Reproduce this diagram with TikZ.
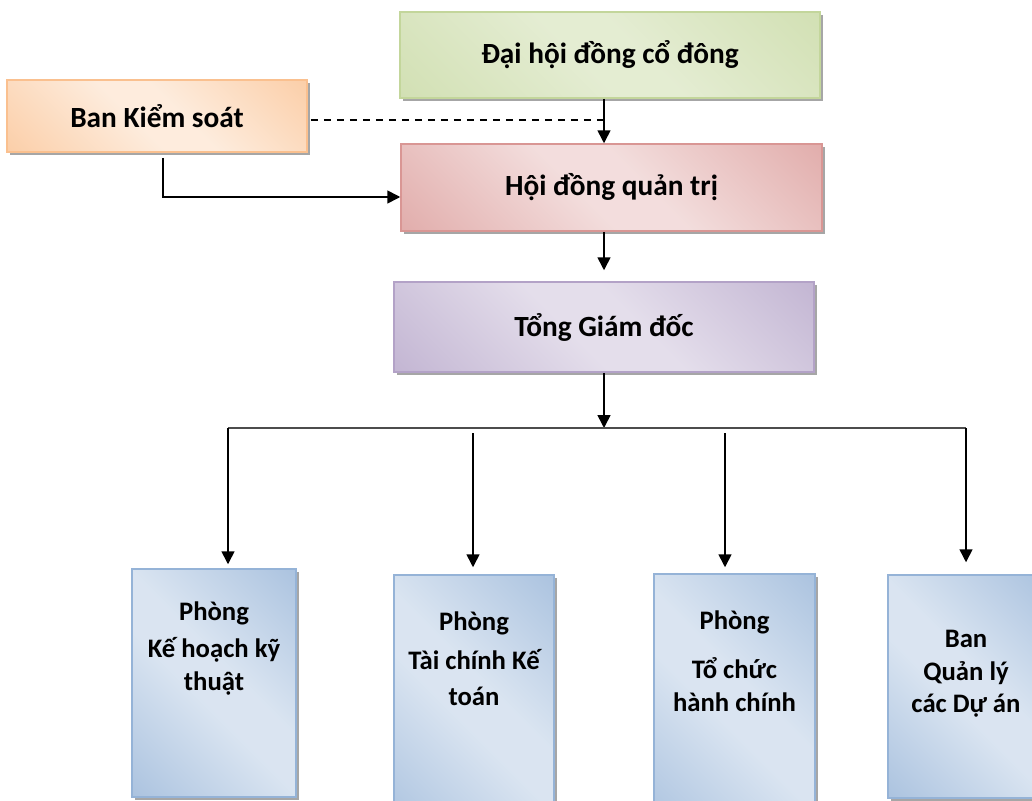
\documentclass[tikz,border=0pt]{standalone}
\usepackage{fontspec}
\setmainfont{Carlito}
\usetikzlibrary{arrows.meta,shadows,calc}
\definecolor{gB}{HTML}{C3D69B}
\definecolor{oB}{HTML}{FAC08F}
\definecolor{rB}{HTML}{D99694}
\definecolor{pB}{HTML}{B3A2C7}
\definecolor{bB}{HTML}{95B3D7}
\pgfdeclareverticalshading{shg}{100bp}{color(0bp)=(gB!90!white); color(45bp)=(gB!45!white); color(55bp)=(gB!45!white); color(100bp)=(gB!90!white)}
\pgfdeclareverticalshading{sho}{100bp}{color(0bp)=(oB); color(45bp)=(oB!30!white); color(55bp)=(oB!30!white); color(100bp)=(oB)}
\pgfdeclareverticalshading{shr}{100bp}{color(0bp)=(rB); color(45bp)=(rB!32!white); color(55bp)=(rB!32!white); color(100bp)=(rB)}
\pgfdeclareverticalshading{shp}{100bp}{color(0bp)=(pB); color(45bp)=(pB!35!white); color(55bp)=(pB!35!white); color(100bp)=(pB)}
\pgfdeclareverticalshading{shb}{100bp}{color(0bp)=(bB); color(45bp)=(bB!35!white); color(55bp)=(bB!35!white); color(100bp)=(bB)}
\tikzset{
  box/.style={draw=#1B, line width=1.5pt, shading=sh#1, shading angle=-45, inner sep=0pt,
    general shadow={fill=black!35, shadow xshift=3pt, shadow yshift=-3pt}},
  toptext/.style={font=\fontsize{29.3}{35}\selectfont\bfseries},
  linetext/.style={anchor=base, inner sep=0pt, font=\fontsize{26.7}{32}\selectfont\bfseries},
  arr/.style={line width=1.6pt, -{Triangle[length=13pt,width=13pt]}},
  dashline/.style={line width=1.3pt, dash pattern=on 7pt off 6pt},
  busline/.style={line width=1.8pt, black!70}
}
\begin{document}
\begin{tikzpicture}[x=1pt,y=-1pt]
\useasboundingbox (0,0) rectangle (1032,800);
\fill[white] (0,0) rectangle (1032,800);
\clip (0,0) rectangle (1032,800);
% boxes
\node[box=g, toptext, minimum width=420pt, minimum height=86pt] (dhd) at (610,55) {Đại hội đồng cổ đông};
\node[box=o, toptext, minimum width=300pt, minimum height=72pt] (bks) at (157,116) {Ban Kiểm soát};
\node[box=r, toptext, minimum width=421pt, minimum height=87pt] (hdqt) at (611.5,187.5) {Hội đồng quản trị};
\node[box=p, toptext, minimum width=420pt, minimum height=90pt] (tgd) at (604,327) {Tổng Giám đốc};
\node[box=b, minimum width=164pt, minimum height=228pt] (b1) at (214,683) {};
\node[box=b, minimum width=160pt, minimum height=255pt] (b2) at (474,702.5) {};
\node[box=b, minimum width=161pt, minimum height=256pt] (b3) at (734.5,702) {};
\node[box=b, minimum width=157pt, minimum height=223pt] (b4) at (966.5,686.5) {};
% box texts
\node[linetext] (t1a) at (214,620) {Phòng};
\node[linetext] (t1b) at (214,657) {Kế hoạch kỹ};
\node[linetext] (t1c) at (214,690) {thuật};
\node[linetext] (t2a) at (474,630) {Phòng};
\node[linetext] (t2b) at (474,669) {Tài chính Kế};
\node[linetext] (t2c) at (474,705) {toán};
\node[linetext] (t3a) at (734.5,629) {Phòng};
\node[linetext] (t3b) at (734.5,678) {Tổ chức};
\node[linetext] (t3c) at (734.5,711) {hành chính};
\node[linetext] (t4a) at (966,647) {Ban};
\node[linetext] (t4b) at (966,680) {Quản lý};
\node[linetext] (t4c) at (966,712) {các Dự án};
% connectors
\coordinate (busC) at (604,428);
\coordinate (busL) at (228,428);
\coordinate (busR) at (966,428);
\coordinate (d2) at (473,433);
\coordinate (d3) at (725,433);
\draw[dashline] ([xshift=3pt,yshift=-4pt]bks.east) -- ([yshift=-4pt]bks.east -| tgd.north);
\draw[arr] (dhd.south -| tgd.north) -- (hdqt.north -| tgd.north);
\draw[arr] ([xshift=6pt,yshift=-5pt]bks.south) |- ([yshift=-9.5pt]hdqt.west);
\draw[arr, shorten >=11pt] (hdqt.south -| tgd.north) -- (tgd.north);
\draw[arr] (tgd.south) -- (busC);
\draw[busline] (busL) -- (busR);
\draw[arr, shorten >=4pt] (busL) -- (b1.north -| busL);
\draw[arr, shorten >=7pt] (d2) -- (b2.north -| d2);
\draw[arr, shorten >=6pt] (d3) -- (b3.north -| d3);
\draw[arr, shorten >=12pt] (busR) -- (b4.north -| busR);
\end{tikzpicture}
\end{document}
